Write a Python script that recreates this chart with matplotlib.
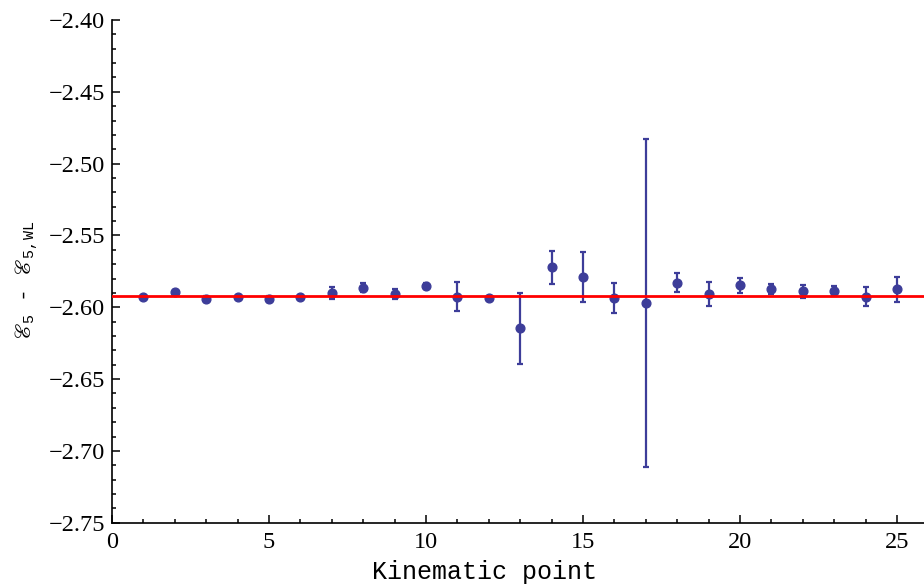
import numpy as np
import matplotlib
matplotlib.use("Agg")
import matplotlib.pyplot as plt
from matplotlib.ticker import MultipleLocator, FuncFormatter

# values
kin_point = list(range(1, 26))
delta_e5 = [-2.5930, -2.5896, -2.5940, -2.5930, -2.5942, -2.5930, -2.5901, -2.5863,
            -2.5908, -2.5854, -2.5926, -2.5937, -2.6147, -2.5722, -2.5791, -2.5937,
            -2.5972, -2.5829, -2.5905, -2.5847, -2.5875, -2.5889, -2.5889, -2.5926,
            -2.5875]
delta_err = [0.0010, 0.0015, 0.0020, 0.0010, 0.0020, 0.0010, 0.0040, 0.0030,
             0.0035, 0.0020, 0.0099, 0.0010, 0.0247, 0.0113, 0.0175, 0.0105,
             0.1140, 0.0066, 0.0084, 0.0053, 0.0035, 0.0047, 0.0036, 0.0067,
             0.0086]
fit_value = -2.5922

plt.rcParams['mathtext.fontset'] = 'custom'
plt.rcParams['mathtext.rm'] = 'Liberation Mono'
plt.rcParams['mathtext.it'] = 'Liberation Mono'
plt.rcParams['mathtext.fallback'] = 'stix'

fig = plt.figure(figsize=(9.24, 5.84), dpi=100)
ax = fig.add_axes([112 / 924, 1 - 522.7 / 584, 1 - 112 / 924, (522.7 - 20) / 584])

blue = '#3d3d99'
ax.errorbar(kin_point, delta_e5, yerr=delta_err, fmt='o', color=blue, ms=6.3,
            elinewidth=1.6, capsize=2.4, capthick=1.6, zorder=3)
ax.axhline(fit_value, color='red', lw=2, zorder=4)

ax.set_xlim(0, 25.86)
ax.set_ylim(-2.75, -2.40)
ax.xaxis.set_major_locator(MultipleLocator(5))
ax.xaxis.set_minor_locator(MultipleLocator(1))
ax.yaxis.set_major_locator(MultipleLocator(0.05))
ax.yaxis.set_minor_locator(MultipleLocator(0.01))
ax.yaxis.set_major_formatter(FuncFormatter(lambda v, p: ('%.2f' % v).replace('-', '\u2212')))

for s in ['top', 'right']:
    ax.spines[s].set_visible(False)
for s in ['left', 'bottom']:
    ax.spines[s].set_linewidth(1.2)
ax.tick_params(which='both', direction='in', width=1.1)
ax.tick_params(which='major', length=6, labelsize=17.5)
ax.tick_params(axis='y', which='major', pad=5)
ax.tick_params(axis='x', which='major', pad=7)
ax.tick_params(which='minor', length=3)
for lab in ax.get_xticklabels() + ax.get_yticklabels():
    lab.set_fontfamily('Liberation Serif')

fig.text(485 / 924, 1 - 572 / 584, 'Kinematic point', family='Liberation Mono',
         fontsize=18, ha='center', va='center')
fig.text(27 / 924, 1 - 280 / 584, r'$ℰ_{5}$ - $ℰ_{5,\mathrm{WL}}$',
         family='Liberation Mono', fontsize=15.5, rotation=90, ha='center', va='center')

fig.savefig('out.png', dpi=100)
